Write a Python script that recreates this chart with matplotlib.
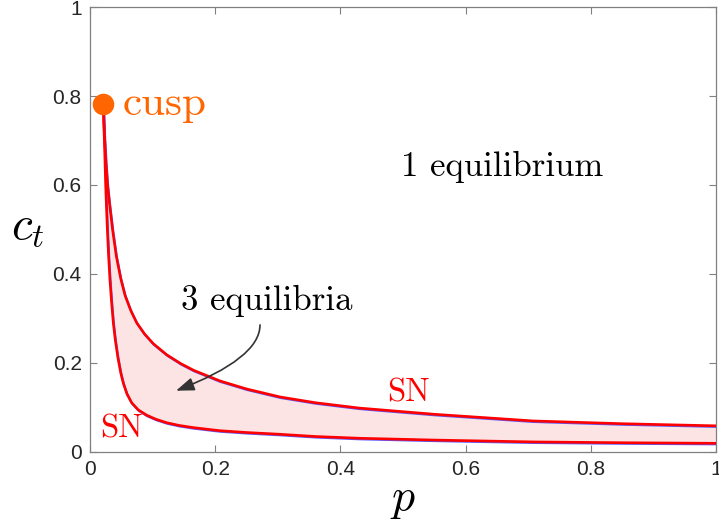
import matplotlib
matplotlib.use("Agg")
import matplotlib.pyplot as plt
import matplotlib.transforms as mtransforms

plt.rcParams['mathtext.fontset'] = 'cm'
plt.rcParams['font.family'] = ['Liberation Sans', 'DejaVu Sans']

# saddle-node branch, upper (p, c_t)
p_up = [0.0213, 0.0222, 0.0235, 0.0255, 0.028, 0.031, 0.036, 0.042, 0.049, 0.0559,
        0.065, 0.0746, 0.087, 0.101, 0.1225, 0.145, 0.1655, 0.2077, 0.25, 0.3035,
        0.36, 0.43, 0.55, 0.708, 0.85, 1.0]
c_up = [0.782, 0.74, 0.70, 0.65, 0.60, 0.56, 0.50, 0.44, 0.39, 0.352,
        0.318, 0.290, 0.265, 0.243, 0.218, 0.198, 0.183, 0.159, 0.141, 0.123,
        0.110, 0.098, 0.084, 0.069, 0.0628, 0.058]

# saddle-node branch, lower
p_lo = [0.0213, 0.022, 0.023, 0.024, 0.025, 0.0263, 0.0277, 0.0297, 0.0319, 0.0345,
        0.0372, 0.0405, 0.0445, 0.049, 0.0532, 0.059, 0.0665, 0.077, 0.0905, 0.105,
        0.1225, 0.142, 0.165, 0.2077, 0.25, 0.3035, 0.36, 0.431, 0.55, 0.708, 0.85, 1.0]
c_lo = [0.782, 0.74, 0.70, 0.65, 0.60, 0.55, 0.50, 0.44, 0.386, 0.335,
        0.290, 0.250, 0.212, 0.178, 0.154, 0.130, 0.110, 0.094, 0.082, 0.073,
        0.065, 0.059, 0.054, 0.047, 0.043, 0.039, 0.034, 0.030, 0.026, 0.0218, 0.020, 0.0187]

cusp_p, cusp_c = 0.0213, 0.782

fig = plt.figure(figsize=(7.19, 5.21), dpi=100)
ax = fig.add_axes([90/719, 69.4/521, 626/719, 444.4/521])

# shaded 3-equilibria region
ax.fill(p_up + p_lo[::-1], c_up + c_lo[::-1], color='#fde4e4', lw=0, zorder=1)

# blue curves slightly offset under the red ones
off = mtransforms.offset_copy(ax.transData, fig=fig, x=0.4, y=-0.7, units='points')
ax.plot(p_up, c_up, color='#5a5aff', lw=1.6, transform=off, zorder=2)
ax.plot(p_lo, c_lo, color='#5a5aff', lw=1.6, transform=off, zorder=2)
ax.plot(p_up, c_up, color='#ff0000', lw=1.9, zorder=3)
ax.plot(p_lo, c_lo, color='#ff0000', lw=1.9, zorder=3)

ax.plot(cusp_p, cusp_c, 'o', color='#ff6600', ms=14.5, zorder=4)
ax.text(0.052, 0.782, 'cusp', color='#ff6600', fontsize=31, fontfamily='cmr10',
        va='center', ha='left')

ax.text(0.658, 0.64, '1 equilibrium', fontsize=25, fontfamily='cmr10', ha='center', va='center')
ax.text(0.282, 0.34, '3 equilibria', fontsize=25, fontfamily='cmr10', ha='center', va='center')
ax.text(0.05, 0.05, 'SN', color='#ff0000', fontsize=23.5, fontfamily='cmr10', ha='center', va='center')
ax.text(0.508, 0.133, 'SN', color='#ff0000', fontsize=23.5, fontfamily='cmr10', ha='center', va='center')

ax.annotate('', xy=(0.1374, 0.137), xytext=(0.2716, 0.285),
            arrowprops=dict(arrowstyle='-|>,head_length=0.55,head_width=0.2',
                            connectionstyle='angle3,angleA=-90,angleB=21',
                            color='#333333', lw=1.2, mutation_scale=20,
                            shrinkA=0, shrinkB=0), zorder=5)

ax.set_xlim(0, 1)
ax.set_ylim(0, 1)
ax.set_xticks([0, 0.2, 0.4, 0.6, 0.8, 1])
ax.set_xticklabels(['0', '0.2', '0.4', '0.6', '0.8', '1'])
ax.set_yticks([0, 0.2, 0.4, 0.6, 0.8, 1])
ax.set_yticklabels(['0', '0.2', '0.4', '0.6', '0.8', '1'])
ax.tick_params(direction='in', length=5, width=0.8, colors='#808080',
               labelcolor='#262626', labelsize=15, top=True, right=True, pad=6)
for s in ax.spines.values():
    s.set_color('#808080')
    s.set_linewidth(0.9)

ax.set_xlabel('$p$', fontsize=33)
ax.xaxis.set_label_coords(0.5, -0.058)
ax.set_ylabel('$c_t$', fontsize=34, rotation=0, ha='center', va='center')
ax.yaxis.set_label_coords(-0.099, 0.505)

fig.savefig('out.png', dpi=100)
